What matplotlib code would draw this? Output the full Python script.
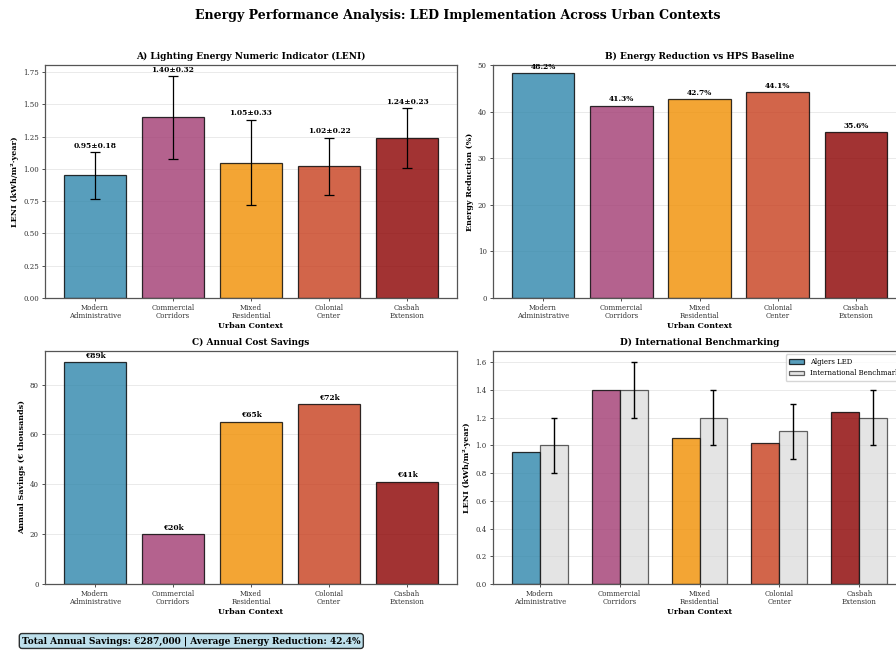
import numpy as np
import matplotlib
matplotlib.use('Agg')
import matplotlib.pyplot as plt

plt.rcParams['font.family'] = 'DejaVu Serif'
plt.rcParams['axes.edgecolor'] = '#555555'
plt.rcParams['axes.linewidth'] = 0.9
plt.rcParams['xtick.major.size'] = 2.5
plt.rcParams['ytick.major.size'] = 2.5
plt.rcParams['xtick.major.width'] = 0.6
plt.rcParams['ytick.major.width'] = 0.6
plt.rcParams['xtick.color'] = '#333333'
plt.rcParams['ytick.color'] = '#333333'

# data
contexts = ['Modern\nAdministrative', 'Commercial\nCorridors', 'Mixed\nResidential',
            'Colonial\nCenter', 'Casbah\nExtension']
leni_mean = [0.95, 1.40, 1.05, 1.02, 1.24]
leni_std = [0.18, 0.32, 0.33, 0.22, 0.23]
energy_reduction = [48.2, 41.3, 42.7, 44.1, 35.6]
cost_savings = [89, 20, 65, 72, 41]
bench_mean = [1.0, 1.4, 1.2, 1.1, 1.2]
bench_err = [0.2, 0.2, 0.2, 0.2, 0.2]
total_savings = 287000
avg_reduction = 42.4

colors = ['#2E86AB', '#A23B72', '#F18F01', '#C73E1D', '#8B0000']

fig = plt.figure(figsize=(8.96, 6.5), dpi=100)
W, H = 896.0, 650.0

def make_ax(left, top, right, bottom):
    return fig.add_axes([left / W, 1 - bottom / H, (right - left) / W, (bottom - top) / H])

ax1 = make_ax(45, 65, 457, 298)
ax2 = make_ax(493, 65, 906, 298)
ax3 = make_ax(45, 351, 457, 584)
ax4 = make_ax(493, 351, 906, 584)

x = np.arange(len(contexts))
title_fs = 6.5
label_fs = 5.8
tick_fs = 5
val_fs = 5.4

def style(ax, ylabel, title):
    ax.set_title(title, fontsize=title_fs, fontweight='bold', pad=4)
    ax.set_xlabel('Urban Context', fontsize=label_fs, fontweight='bold', labelpad=1)
    ax.set_ylabel(ylabel, fontsize=label_fs, fontweight='bold', labelpad=3)
    ax.set_xticks(x)
    ax.set_xticklabels(contexts, fontsize=tick_fs, linespacing=1.0)
    ax.tick_params(axis='y', labelsize=tick_fs, pad=2)
    ax.tick_params(axis='x', pad=2)
    ax.grid(axis='y', alpha=0.3, linewidth=0.6)
    ax.set_axisbelow(True)

# A) LENI
ax1.bar(x, leni_mean, 0.8, yerr=leni_std, capsize=3.5, color=colors, alpha=0.8,
        edgecolor='black', linewidth=0.9, error_kw={'elinewidth': 0.9, 'capthick': 0.9})
for i in range(len(x)):
    ax1.text(x[i], leni_mean[i] + leni_std[i] + 0.02, f'{leni_mean[i]:.2f}±{leni_std[i]:.2f}',
             ha='center', va='bottom', fontsize=val_fs, fontweight='bold')
style(ax1, 'LENI (kWh/m²·year)', 'A) Lighting Energy Numeric Indicator (LENI)')

# B) Energy reduction
ax2.bar(x, energy_reduction, 0.8, color=colors, alpha=0.8, edgecolor='black', linewidth=0.9)
for i in range(len(x)):
    ax2.text(x[i], energy_reduction[i] + 0.5, f'{energy_reduction[i]}%',
             ha='center', va='bottom', fontsize=val_fs, fontweight='bold')
ax2.set_ylim(0, 50)
style(ax2, 'Energy Reduction (%)', 'B) Energy Reduction vs HPS Baseline')

# C) Cost savings
ax3.bar(x, cost_savings, 0.8, color=colors, alpha=0.8, edgecolor='black', linewidth=0.9)
for i in range(len(x)):
    ax3.text(x[i], cost_savings[i] + 1, f'€{cost_savings[i]}k',
             ha='center', va='bottom', fontsize=val_fs, fontweight='bold')
style(ax3, 'Annual Savings (€ thousands)', 'C) Annual Cost Savings')

# D) Benchmarking
w = 0.35
ax4.bar(x - w / 2, leni_mean, w, color=colors, alpha=0.8, edgecolor='black',
        linewidth=0.9, label='Algiers LED')
ax4.bar(x + w / 2, bench_mean, w, yerr=bench_err, capsize=2.5, color='lightgray',
        alpha=0.6, edgecolor='black', linewidth=0.9, label='International Benchmark',
        error_kw={'elinewidth': 1.0, 'capthick': 1.0})
style(ax4, 'LENI (kWh/m²·year)', 'D) International Benchmarking')
ax4.legend(loc='upper right', fontsize=tick_fs, handlelength=2.2, borderpad=0.5)

fig.suptitle('Energy Performance Analysis: LED Implementation Across Urban Contexts',
             fontsize=9, fontweight='bold', x=458 / W, y=1 - 15 / H, va='center')

fig.text(22 / W, 1 - 641 / H,
         f'Total Annual Savings: €{total_savings:,} | Average Energy Reduction: {avg_reduction}%',
         fontsize=6.5, fontweight='bold', va='center', ha='left',
         bbox=dict(boxstyle='round,pad=0.3', facecolor='lightblue', alpha=0.8))

fig.savefig('out.png', dpi=100)
